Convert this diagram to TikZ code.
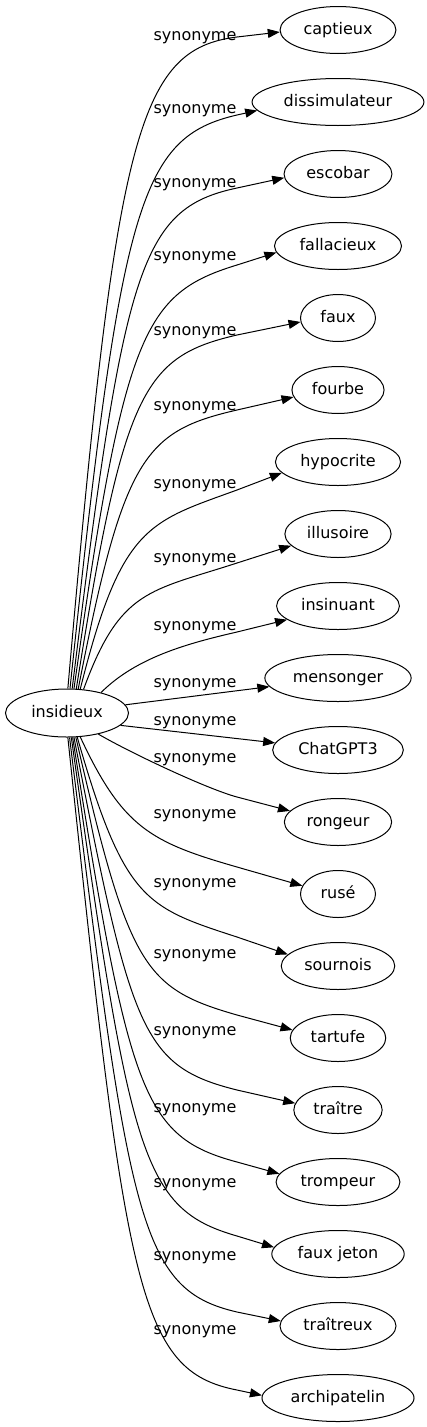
\documentclass[tikz,border=0pt]{standalone}
\usepackage{fontspec}
\setmainfont{DejaVu Sans}
\usetikzlibrary{shapes.geometric,arrows.meta}
\begin{document}
\begin{tikzpicture}[x=1pt,y=1pt,
  word/.style={ellipse, draw, line width=1pt, font=\fontsize{16}{19}\selectfont,
    text height=13pt, text depth=3.5pt, inner xsep=6.5pt, inner ysep=0pt,
    minimum width=75pt, minimum height=47pt},
  rel/.style={font=\fontsize{16}{19}\selectfont, anchor=base, inner sep=0pt},
  link/.style={line width=1pt, -{Triangle[length=12pt,width=9pt]}}]
\useasboundingbox (0,0) rectangle (427,-1427);

\node[word, minimum width=123pt, minimum height=48pt] (src) at (67,-713) {insidieux};

\foreach \nm/\txt [count=\i from 0] in {cap/captieux, dis/dissimulateur, esc/escobar,
  fal/fallacieux, fau/faux, fou/fourbe, hyp/hypocrite, ill/illusoire, ins/insinuant,
  men/mensonger, cha/ChatGPT3, ron/rongeur, rus/rusé, sou/sournois, tar/tartufe,
  tra/traître, tro/trompeur, fj/faux jeton, trx/traîtreux, arc/archipatelin}
  \node[word] (\nm) at (338,{-30-72*\i}) {\txt};

\foreach \ly [count=\i from 0] in {35,108,182,255,330,405,483,557,625,682,
  720,757,813,882,953,1030,1107,1182,1255,1329}
  \node[rel] (l\i) at (195,{-\ly-5}) {synonyme};

% upper edges
\foreach \t/\s/\o/\a/\n/\in/\b/\e in {
  cap/88/85/554/37/187/101/182,
  dis/83/84/488/115/193/100/186,
  esc/78/83/426/188/192/99/184,
  fal/74/82/360/265/197/98/186,
  fau/69/81/301/335/193/97/186,
  fou/65/79/237/410/193/95/189,
  hyp/61/76/169/490/200/94/191,
  ill/55/70/107/563/198/92/194,
  ins/31/45/50/632/193/50/195}
  \draw[link] (src.\s) .. controls +(\o:\a) and +(\in:\b) .. (237,-\n) -- (\t.\e);

% middle edges
\draw[link] (src.8) -- (men);
\draw[link] (src.347) -- (cha);

% lower edges
\foreach \t/\s/\o/\a/\n/\in/\b/\e in {
  ron/326/330/40/797/165/30/167,
  rus/299/295/100/867/164/90/167,
  sou/293/286/170/937/162/96/167,
  tar/290/283/236/1015/164/97/170,
  tra/286/281/300/1090/166/98/171,
  tro/283/279/361/1162/165/98/172,
  fj/280/278/424/1236/164/99/174,
  trx/276/277/489/1312/167/100/175,
  arc/272/276/555/1390/169/101/178}
  \draw[link] (src.\s) .. controls +(\o:\a) and +(\in:\b) .. (237,-\n) -- (\t.\e);
\end{tikzpicture}
\end{document}
